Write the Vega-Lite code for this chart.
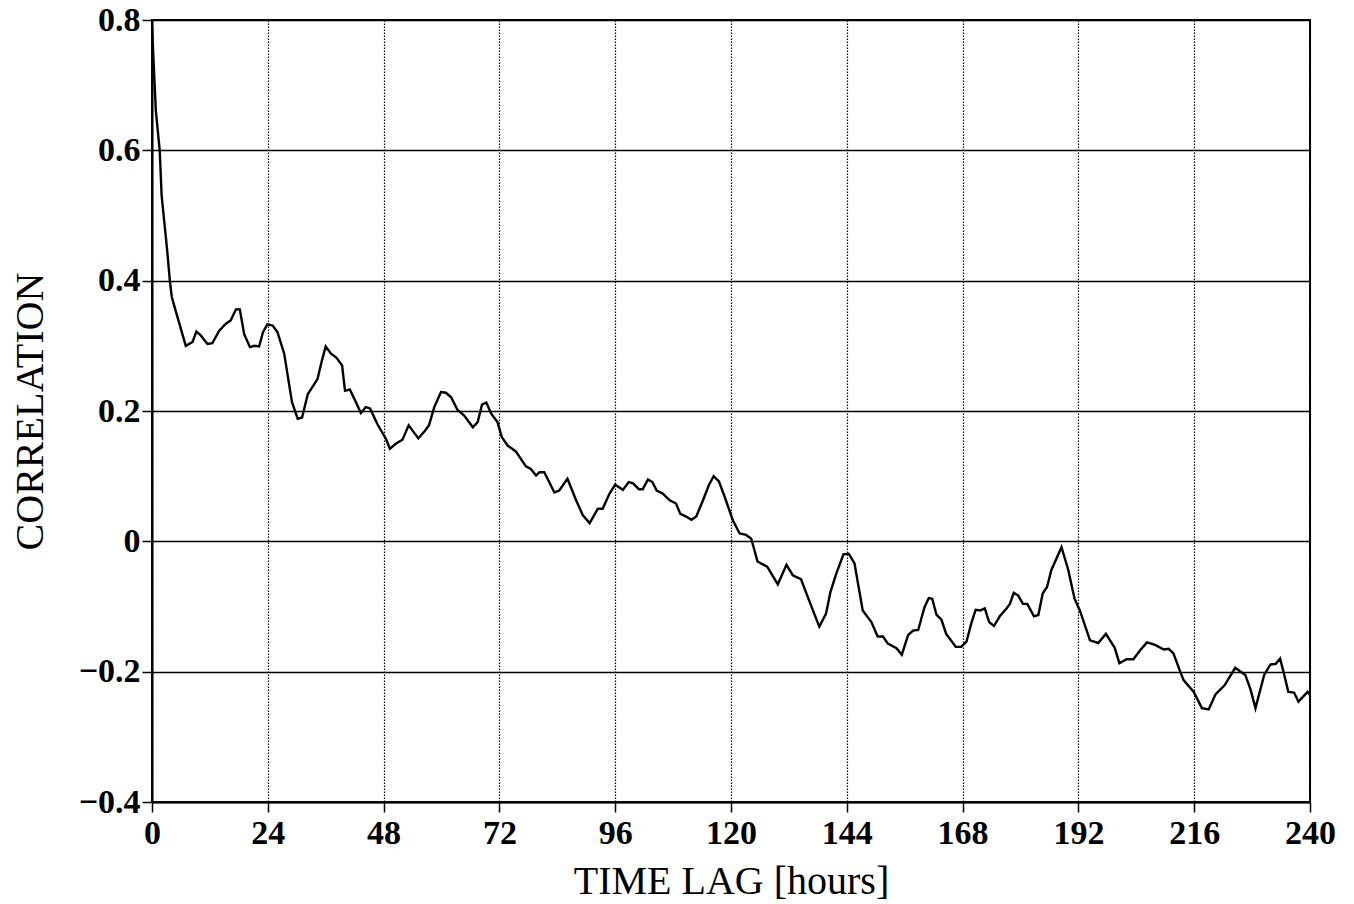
{
  "$schema": "https://vega.github.io/schema/vega-lite/v6.json",
  "width": 1158,
  "height": 782,
  "autosize": {"type": "none"},
  "padding": {"left": 152, "top": 20, "right": 44, "bottom": 102},
  "background": "white",
  "config": {
    "view": {"stroke": "black", "strokeWidth": 2},
    "font": "Liberation Serif",
    "axis": {
      "labelFont": "Liberation Serif",
      "titleFont": "Liberation Serif",
      "labelColor": "black",
      "titleColor": "black",
      "domainColor": "black",
      "domainWidth": 2,
      "tickColor": "black",
      "tickWidth": 1.5,
      "tickSize": 10,
      "labelFontSize": 34,
      "labelFontWeight": "bold",
      "titleFontSize": 40,
      "titleFontWeight": "normal",
      "gridColor": "black",
      "gridOpacity": 1
    }
  },
  "data": {
    "values": [
      {"lag": 0, "corr": 0.79},
      {"lag": 0.8, "corr": 0.66},
      {"lag": 1.6, "corr": 0.60},
      {"lag": 2.0, "corr": 0.53},
      {"lag": 3.1, "corr": 0.45},
      {"lag": 3.7, "corr": 0.40},
      {"lag": 4.1, "corr": 0.375},
      {"lag": 4.9, "corr": 0.354},
      {"lag": 7.0, "corr": 0.300},
      {"lag": 8.4, "corr": 0.306},
      {"lag": 9.2, "corr": 0.322},
      {"lag": 10.1, "corr": 0.316},
      {"lag": 11.5, "corr": 0.303},
      {"lag": 12.5, "corr": 0.304},
      {"lag": 13.9, "corr": 0.323},
      {"lag": 15.3, "corr": 0.334},
      {"lag": 16.3, "corr": 0.339},
      {"lag": 17.4, "corr": 0.356},
      {"lag": 18.2, "corr": 0.356},
      {"lag": 19.1, "corr": 0.318},
      {"lag": 20.3, "corr": 0.298},
      {"lag": 21.2, "corr": 0.300},
      {"lag": 22.2, "corr": 0.299},
      {"lag": 23.0, "corr": 0.321},
      {"lag": 23.9, "corr": 0.333},
      {"lag": 25.0, "corr": 0.331},
      {"lag": 26.0, "corr": 0.321},
      {"lag": 27.4, "corr": 0.288},
      {"lag": 29.0, "corr": 0.214},
      {"lag": 30.2, "corr": 0.188},
      {"lag": 31.1, "corr": 0.190},
      {"lag": 32.3, "corr": 0.226},
      {"lag": 33.0, "corr": 0.234},
      {"lag": 34.3, "corr": 0.249},
      {"lag": 35.2, "corr": 0.277},
      {"lag": 36.0, "corr": 0.299},
      {"lag": 37.1, "corr": 0.288},
      {"lag": 38.2, "corr": 0.282},
      {"lag": 39.4, "corr": 0.270},
      {"lag": 40.0, "corr": 0.231},
      {"lag": 41.0, "corr": 0.233},
      {"lag": 42.1, "corr": 0.216},
      {"lag": 43.3, "corr": 0.197},
      {"lag": 44.3, "corr": 0.206},
      {"lag": 45.2, "corr": 0.204},
      {"lag": 46.7, "corr": 0.180},
      {"lag": 48.5, "corr": 0.157},
      {"lag": 49.3, "corr": 0.142},
      {"lag": 50.6, "corr": 0.150},
      {"lag": 51.9, "corr": 0.156},
      {"lag": 53.2, "corr": 0.178},
      {"lag": 54.2, "corr": 0.168},
      {"lag": 55.2, "corr": 0.158},
      {"lag": 56.4, "corr": 0.168},
      {"lag": 57.4, "corr": 0.178},
      {"lag": 58.5, "corr": 0.206},
      {"lag": 59.9, "corr": 0.229},
      {"lag": 60.9, "corr": 0.228},
      {"lag": 62.0, "corr": 0.221},
      {"lag": 63.3, "corr": 0.202},
      {"lag": 64.7, "corr": 0.193},
      {"lag": 66.5, "corr": 0.175},
      {"lag": 67.5, "corr": 0.183},
      {"lag": 68.4, "corr": 0.210},
      {"lag": 69.3, "corr": 0.213},
      {"lag": 70.3, "corr": 0.196},
      {"lag": 71.6, "corr": 0.183},
      {"lag": 72.5, "corr": 0.160},
      {"lag": 73.7, "corr": 0.147},
      {"lag": 75.4, "corr": 0.138},
      {"lag": 77.5, "corr": 0.115},
      {"lag": 78.5, "corr": 0.111},
      {"lag": 79.6, "corr": 0.101},
      {"lag": 80.3, "corr": 0.106},
      {"lag": 81.3, "corr": 0.106},
      {"lag": 83.4, "corr": 0.075},
      {"lag": 84.4, "corr": 0.078},
      {"lag": 86.1, "corr": 0.096},
      {"lag": 87.9, "corr": 0.063},
      {"lag": 89.3, "corr": 0.040},
      {"lag": 90.7, "corr": 0.028},
      {"lag": 92.4, "corr": 0.050},
      {"lag": 93.4, "corr": 0.050},
      {"lag": 94.8, "corr": 0.073},
      {"lag": 96.0, "corr": 0.087},
      {"lag": 97.6, "corr": 0.079},
      {"lag": 98.8, "corr": 0.091},
      {"lag": 99.7, "corr": 0.089},
      {"lag": 100.9, "corr": 0.080},
      {"lag": 101.7, "corr": 0.080},
      {"lag": 102.8, "corr": 0.095},
      {"lag": 103.7, "corr": 0.091},
      {"lag": 104.6, "corr": 0.078},
      {"lag": 105.9, "corr": 0.073},
      {"lag": 107.3, "corr": 0.063},
      {"lag": 108.6, "corr": 0.058},
      {"lag": 109.5, "corr": 0.042},
      {"lag": 110.7, "corr": 0.038},
      {"lag": 111.8, "corr": 0.033},
      {"lag": 112.8, "corr": 0.038},
      {"lag": 114.2, "corr": 0.063},
      {"lag": 115.4, "corr": 0.086},
      {"lag": 116.4, "corr": 0.100},
      {"lag": 117.5, "corr": 0.092},
      {"lag": 118.7, "corr": 0.068},
      {"lag": 120.4, "corr": 0.032},
      {"lag": 121.8, "corr": 0.012},
      {"lag": 123.1, "corr": 0.010},
      {"lag": 124.2, "corr": 0.004},
      {"lag": 125.5, "corr": -0.031},
      {"lag": 127.5, "corr": -0.039},
      {"lag": 129.7, "corr": -0.066},
      {"lag": 131.5, "corr": -0.036},
      {"lag": 132.8, "corr": -0.052},
      {"lag": 134.5, "corr": -0.058},
      {"lag": 136.3, "corr": -0.093},
      {"lag": 138.3, "corr": -0.131},
      {"lag": 139.7, "corr": -0.111},
      {"lag": 140.6, "corr": -0.078},
      {"lag": 141.8, "corr": -0.050},
      {"lag": 143.3, "corr": -0.020},
      {"lag": 144.4, "corr": -0.019},
      {"lag": 145.6, "corr": -0.034},
      {"lag": 147.3, "corr": -0.106},
      {"lag": 149.1, "corr": -0.124},
      {"lag": 150.4, "corr": -0.146},
      {"lag": 151.5, "corr": -0.146},
      {"lag": 152.5, "corr": -0.157},
      {"lag": 154.3, "corr": -0.164},
      {"lag": 155.4, "corr": -0.174},
      {"lag": 156.7, "corr": -0.144},
      {"lag": 157.7, "corr": -0.137},
      {"lag": 158.8, "corr": -0.136},
      {"lag": 160.1, "corr": -0.101},
      {"lag": 161.0, "corr": -0.087},
      {"lag": 161.7, "corr": -0.088},
      {"lag": 162.6, "corr": -0.113},
      {"lag": 163.6, "corr": -0.120},
      {"lag": 164.6, "corr": -0.142},
      {"lag": 166.6, "corr": -0.162},
      {"lag": 167.7, "corr": -0.162},
      {"lag": 168.8, "corr": -0.154},
      {"lag": 169.8, "corr": -0.126},
      {"lag": 170.7, "corr": -0.105},
      {"lag": 171.7, "corr": -0.106},
      {"lag": 172.6, "corr": -0.103},
      {"lag": 173.5, "corr": -0.124},
      {"lag": 174.5, "corr": -0.130},
      {"lag": 175.7, "corr": -0.115},
      {"lag": 177.1, "corr": -0.103},
      {"lag": 177.8, "corr": -0.096},
      {"lag": 178.6, "corr": -0.079},
      {"lag": 179.5, "corr": -0.083},
      {"lag": 180.5, "corr": -0.096},
      {"lag": 181.4, "corr": -0.096},
      {"lag": 182.8, "corr": -0.115},
      {"lag": 183.7, "corr": -0.113},
      {"lag": 184.6, "corr": -0.080},
      {"lag": 185.5, "corr": -0.070},
      {"lag": 186.4, "corr": -0.044},
      {"lag": 188.5, "corr": -0.009},
      {"lag": 189.9, "corr": -0.044},
      {"lag": 191.2, "corr": -0.088},
      {"lag": 192.3, "corr": -0.106},
      {"lag": 194.4, "corr": -0.152},
      {"lag": 196.1, "corr": -0.156},
      {"lag": 197.7, "corr": -0.142},
      {"lag": 199.5, "corr": -0.163},
      {"lag": 200.5, "corr": -0.187},
      {"lag": 202.0, "corr": -0.181},
      {"lag": 203.4, "corr": -0.181},
      {"lag": 204.8, "corr": -0.167},
      {"lag": 206.2, "corr": -0.155},
      {"lag": 207.9, "corr": -0.159},
      {"lag": 209.7, "corr": -0.166},
      {"lag": 210.7, "corr": -0.165},
      {"lag": 211.7, "corr": -0.172},
      {"lag": 213.1, "corr": -0.200},
      {"lag": 213.8, "corr": -0.213},
      {"lag": 215.9, "corr": -0.231},
      {"lag": 217.6, "corr": -0.256},
      {"lag": 219.0, "corr": -0.258},
      {"lag": 220.4, "corr": -0.235},
      {"lag": 222.3, "corr": -0.221},
      {"lag": 224.5, "corr": -0.194},
      {"lag": 226.6, "corr": -0.205},
      {"lag": 227.7, "corr": -0.228},
      {"lag": 228.7, "corr": -0.256},
      {"lag": 230.5, "corr": -0.205},
      {"lag": 231.8, "corr": -0.189},
      {"lag": 232.9, "corr": -0.188},
      {"lag": 233.8, "corr": -0.180},
      {"lag": 234.6, "corr": -0.203},
      {"lag": 235.5, "corr": -0.231},
      {"lag": 236.7, "corr": -0.232},
      {"lag": 237.6, "corr": -0.246},
      {"lag": 239.5, "corr": -0.231},
      {"lag": 240.0, "corr": -0.236}
    ]
  },
  "mark": {"type": "line", "color": "black", "strokeWidth": 2.4, "clip": true},
  "encoding": {
    "x": {
      "field": "lag",
      "type": "quantitative",
      "scale": {"domain": [0, 240], "nice": false, "zero": false},
      "axis": {
        "title": "TIME LAG [hours]",
        "values": [0, 24, 48, 72, 96, 120, 144, 168, 192, 216, 240],
        "labelPadding": 4,
        "labelFlush": false,
        "grid": true,
        "gridDash": [1.5, 1.5],
        "gridWidth": 1.2,
        "titleY": 91,
        "titleBaseline": "alphabetic"
      }
    },
    "y": {
      "field": "corr",
      "type": "quantitative",
      "scale": {"domain": [-0.4, 0.8], "nice": false, "zero": false},
      "axis": {
        "title": "CORRELATION",
        "values": [-0.4, -0.2, 0, 0.2, 0.4, 0.6, 0.8],
        "labelExpr": "datum.value == 0 ? '0' : format(datum.value, '.1f')",
        "labelPadding": 2,
        "labelFlush": false,
        "grid": true,
        "gridWidth": 1.5,
        "titleX": -110,
        "titleY": 391,
        "titleAngle": -90,
        "titleAlign": "center",
        "titleBaseline": "alphabetic"
      }
    }
  }
}
